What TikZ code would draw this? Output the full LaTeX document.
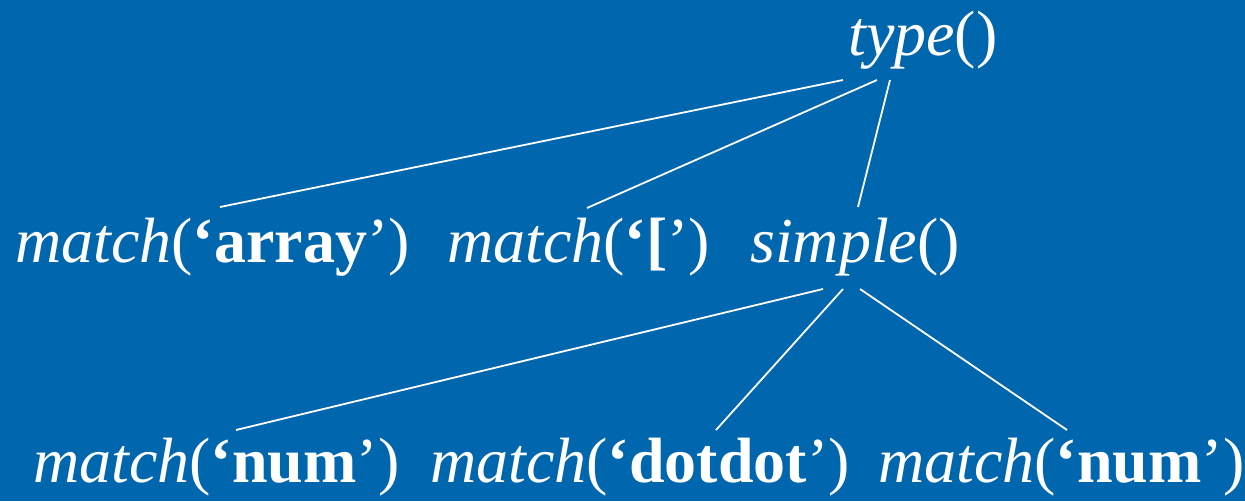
\documentclass[tikz,border=0pt]{standalone}
\usepackage{fontspec}
\setmainfont{Liberation Serif}
\usetikzlibrary{calc}
\definecolor{bgblue}{RGB}{0,102,174}
\tikzset{
  lbl/.style={anchor=base west, inner sep=0pt, text=white, font=\fontsize{64}{64}\selectfont},
  edge/.style={draw=white, line width=1.8pt}
}
\begin{document}
\begin{tikzpicture}[x=1pt,y=-1pt]
\useasboundingbox (0,0) rectangle (1245,501);
\fill[bgblue] (0,0) rectangle (1245,501);
\node[lbl] (type) at (848,55) {\textit{type}()};
\node[lbl] (arr) at (15,262) {\textit{match}(\textbf{‘array}’)};
\node[lbl] (brk) at (447,262) {\textit{match}(\textbf{‘[}’)};
\node[lbl] (simple) at (750,262) {\textit{simple}()};
\node[lbl] (num1) at (33,482) {\textit{match}(\textbf{‘num}’)};
\node[lbl] (dd) at (430,482) {\textit{match}(\textbf{‘dotdot}’)};
\node[lbl] (num2) at (878,482) {\textit{match}(\textbf{‘num}’)};
\draw[edge] ($(type.base west)+(-5,25)$) -- ($(arr.base west)+(205,-55)$);
\draw[edge] ($(type.base west)+(29,25)$) -- ($(brk.base west)+(140,-54)$);
\draw[edge] ($(type.base west)+(42,25)$) -- ($(simple.base west)+(108,-55)$);
\draw[edge] ($(simple.base west)+(73,27)$) -- ($(num1.base west)+(203,-52)$);
\draw[edge] ($(simple.base west)+(93,27)$) -- ($(dd.base west)+(286,-52)$);
\draw[edge] ($(simple.base west)+(110,27)$) -- ($(num2.base west)+(189,-52)$);
\end{tikzpicture}
\end{document}
